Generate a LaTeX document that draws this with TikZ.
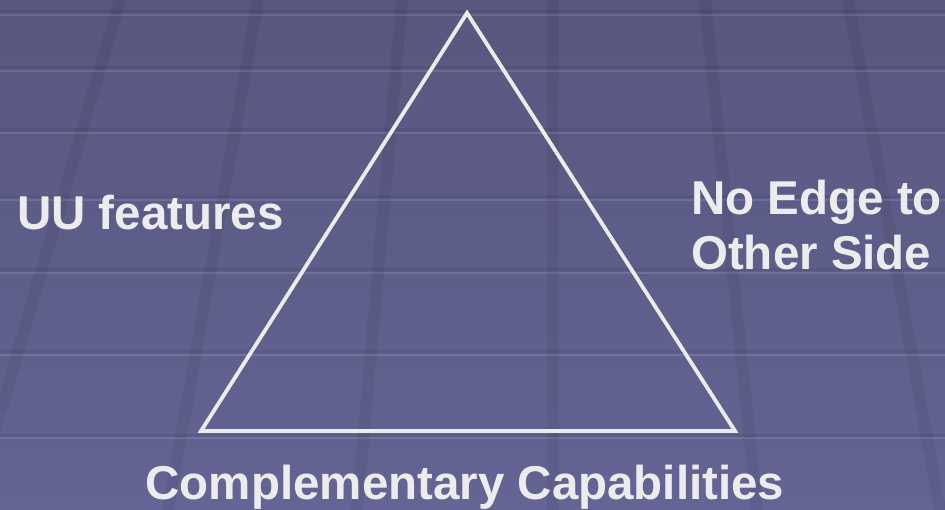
\documentclass[tikz,border=0pt]{standalone}
\usepackage{fontspec}
\setmainfont{Liberation Sans}
\usetikzlibrary{positioning}
\definecolor{slidetop}{HTML}{57577F}
\definecolor{slidebot}{HTML}{646495}
\definecolor{chalk}{HTML}{ECECEE}
\tikzstyle{label} = [text=chalk, inner sep=0pt, font=\fontsize{47.5}{55}\selectfont\bfseries, align=left]
\tikzstyle{edge} = [draw=chalk, line width=3.8pt, line join=miter]
\tikzstyle{ruleshade} = [line width=3pt, black, opacity=0.07]
\tikzstyle{rulelight} = [line width=2.5pt, white, opacity=0.11]
\tikzstyle{stripe} = [line width=12pt, black, opacity=0.06]

\begin{document}
\begin{tikzpicture}[x=1pt,y=-1pt]
\useasboundingbox (0,0) rectangle (945,510);
%% fondo con degradado
\shade[top color=slidetop, bottom color=slidebot] (0,0) rectangle (945,510);
%% lineas horizontales de la rejilla
\foreach \y in {15,71,133,200,273,355,438} {
  \draw[ruleshade] (0,\y-3) -- (945,\y-3);
  \draw[rulelight] (0,\y) -- (945,\y);
}
%% franjas inclinadas
\foreach \xa/\xb in {120/-28, 258/168, 402/357, 553/553, 705/757, 848/940} {
  \draw[stripe] (\xa,0) -- (\xb,510);
}

\coordinate (top) at (467,13);
\coordinate (left) at (201,431);
\coordinate (right) at (735,431);

\node (uu) [label, anchor=base west] at (17,230) {UU features};
\node (edge) [label, anchor=base west] at (691,270) {No Edge to\\Other Side};
\node (comp) [label, anchor=base] at (465,499) {Complementary Capabilities};

%% el triangulo va despues de los textos
\draw [edge] (top) -- (left) -- (right) -- cycle;

\end{tikzpicture}
\end{document}
